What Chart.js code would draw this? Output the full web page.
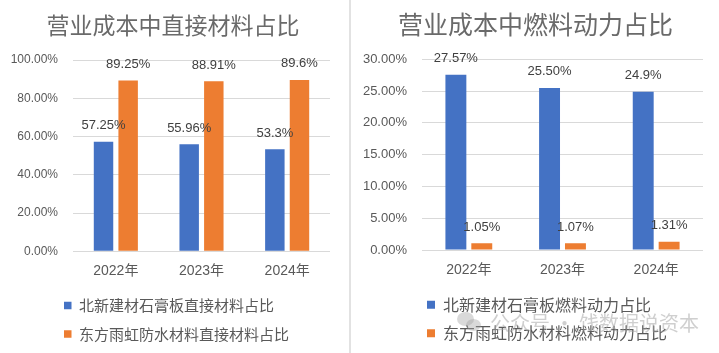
<!DOCTYPE html>
<html>
<head>
<meta charset="utf-8">
<script src="https://cdn.jsdelivr.net/npm/chart.js@4.4.1/dist/chart.umd.min.js"></script>
<style>
html,body{margin:0;padding:0;background:#fff;width:719px;height:353px;overflow:hidden;}
#leftBox{position:absolute;left:0;top:0;width:346px;height:353px;}
#rightBox{position:absolute;left:352px;top:0;width:367px;height:353px;}
#divider{position:absolute;left:349px;top:0;width:2px;height:353px;background:#e2e2e2;}
#wm{position:absolute;left:457px;top:309px;height:28px;font-family:'Noto Sans CJK SC',sans-serif;font-size:20px;line-height:28px;color:rgba(160,160,160,0.5);white-space:nowrap;}
#wm .ic1{position:absolute;left:0;top:3px;width:17px;height:14px;border-radius:50%;background:rgba(160,160,160,0.4);}
#wm .ic2{position:absolute;left:9px;top:10px;width:15px;height:12px;border-radius:50%;background:rgba(160,160,160,0.4);}
#wm .tx{position:absolute;left:33px;top:0;}
</style>
</head>
<body>
<div id="leftBox"><canvas id="leftChart"></canvas></div>
<div id="divider"></div>
<div id="rightBox"><canvas id="rightChart"></canvas></div>
<div id="wm"><span class="ic1"></span><span class="ic2"></span><span class="tx">公众号 · 饯数据说资本</span></div>
<script>
// ---- data ----
const categories = ['2022年', '2023年', '2024年'];
const leftTitle = '营业成本中直接材料占比';
const rightTitle = '营业成本中燃料动力占比';
const leftSeriesNames = ['北新建材石膏板直接材料占比', '东方雨虹防水材料直接材料占比'];
const rightSeriesNames = ['北新建材石膏板燃料动力占比', '东方雨虹防水材料燃料动力占比'];
const leftBlueValues = [57.25, 55.96, 53.3];
const leftOrangeValues = [89.25, 88.91, 89.6];
const rightBlueValues = [27.57, 25.50, 24.9];
const rightOrangeValues = [1.05, 1.07, 1.31];
const leftBlueLabels = ['57.25%', '55.96%', '53.3%'];
const leftOrangeLabels = ['89.25%', '88.91%', '89.6%'];
const rightBlueLabels = ['27.57%', '25.50%', '24.9%'];
const rightOrangeLabels = ['1.05%', '1.07%', '1.31%'];
const leftTickLabels = ['0.00%', '20.00%', '40.00%', '60.00%', '80.00%', '100.00%'];
const rightTickLabels = ['0.00%', '5.00%', '10.00%', '15.00%', '20.00%', '25.00%', '30.00%'];

const BLUE = '#4472C4';
const ORANGE = '#ED7D31';
const TEXT = '#595959';
const TITLE = '#6a6a6a';
const GRID = '#d9d9d9';
const LATIN = "'Liberation Sans', 'Noto Sans CJK SC', sans-serif";
const CJK = "'Noto Sans CJK SC', sans-serif";

const valueLabelPlugin = {
  id: 'valueLabels',
  afterDatasetsDraw(chart, args, opts) {
    const ctx = chart.ctx;
    ctx.save();
    ctx.font = opts.size + 'px ' + LATIN;
    ctx.fillStyle = opts.color;
    ctx.textAlign = 'center';
    ctx.textBaseline = 'middle';
    chart.data.datasets.forEach((ds, di) => {
      const meta = chart.getDatasetMeta(di);
      meta.data.forEach((bar, i) => {
        ctx.fillText(ds.valueLabels[i], bar.x, bar.y - opts.offset);
      });
    });
    ctx.restore();
  }
};

const legendShiftPlugin = {
  id: 'legendShift',
  afterLayout(chart, args, opts) {
    const lg = chart.legend;
    if (lg) { lg.left += opts.x; lg.right += opts.x; }
  }
};

function makeChart(id, cfg) {
  return new Chart(document.getElementById(id), {
    type: 'bar',
    data: {
      labels: categories,
      datasets: [
        { label: cfg.names[0], data: cfg.blue, valueLabels: cfg.blueLabels, backgroundColor: BLUE, borderWidth: 0,
          categoryPercentage: cfg.cp, barPercentage: cfg.bp, yAxisID: 'y' },
        { label: cfg.names[1], data: cfg.orange, valueLabels: cfg.orangeLabels, backgroundColor: ORANGE, borderWidth: 0,
          categoryPercentage: cfg.cp, barPercentage: cfg.bp, yAxisID: 'y' }
      ]
    },
    options: {
      responsive: true,
      maintainAspectRatio: false,
      animation: false,
      devicePixelRatio: 1,
      layout: { padding: { left: 0, right: 0, top: 0, bottom: cfg.padBottom } },
      plugins: {
        title: {
          display: true, text: cfg.title, color: TITLE,
          font: { family: CJK, size: cfg.titleSize, weight: 'normal', lineHeight: 1.2 },
          padding: { top: cfg.titleTop, bottom: cfg.titleBottom }
        },
        legend: {
          display: true, position: 'bottom', align: 'start',
          labels: {
            color: TEXT, boxWidth: cfg.box, boxHeight: cfg.box, padding: cfg.legendPad,
            font: { family: CJK, size: cfg.legendSize }
          }
        },
        tooltip: { enabled: false },
        valueLabels: { size: 13, color: '#404040', offset: 16 },
        legendShift: { x: cfg.legendShift }
      },
      scales: {
        x: {
          grid: { display: false, drawTicks: false },
          border: { display: false },
          ticks: { color: TEXT, padding: cfg.xPad, font: { family: LATIN, size: 14 } },
          afterFit(s) { s.height = cfg.xHeight; }
        },
        y: {
          position: 'left', min: 0, max: cfg.max,
          grid: { color: GRID, lineWidth: 1, drawTicks: false },
          border: { display: false },
          ticks: {
            stepSize: cfg.step, color: TEXT, padding: cfg.yPad,
            font: { family: LATIN, size: cfg.yTickSize },
            callback: (v, i) => cfg.tickLabels[i]
          },
          afterFit(s) { s.width = cfg.yWidth; }
        },
        yR: {
          position: 'right', display: true, min: 0, max: 1,
          grid: { display: false, drawTicks: false },
          border: { display: false },
          ticks: { display: false },
          afterFit(s) { s.width = cfg.rightGap; }
        }
      }
    },
    plugins: [valueLabelPlugin, legendShiftPlugin]
  });
}

makeChart('leftChart', {
  title: leftTitle, names: leftSeriesNames,
  blue: leftBlueValues, orange: leftOrangeValues,
  blueLabels: leftBlueLabels, orangeLabels: leftOrangeLabels,
  tickLabels: leftTickLabels, max: 100, step: 20,
  cp: 0.575, bp: 0.79,
  titleSize: 23, titleTop: 11, titleBottom: 21.4,
  legendSize: 15, legendPad: 13.5, box: 7.5, legendShift: 50.5,
  padBottom: 1.5, xPad: 11.3, xHeight: 33.2,
  yWidth: 73, yPad: 15, yTickSize: 12, rightGap: 16
});

makeChart('rightChart', {
  title: rightTitle, names: rightSeriesNames,
  blue: rightBlueValues, orange: rightOrangeValues,
  blueLabels: rightBlueLabels, orangeLabels: rightOrangeLabels,
  tickLabels: rightTickLabels, max: 30, step: 5,
  cp: 0.553, bp: 0.808,
  titleSize: 25, titleTop: 9, titleBottom: 20.3,
  legendSize: 16, legendPad: 12.4, box: 8, legendShift: 62.6,
  padBottom: 1.8, xPad: 11.3, xHeight: 34.4,
  yWidth: 70, yPad: 15, yTickSize: 13, rightGap: 16
});
</script>
</body>
</html>
